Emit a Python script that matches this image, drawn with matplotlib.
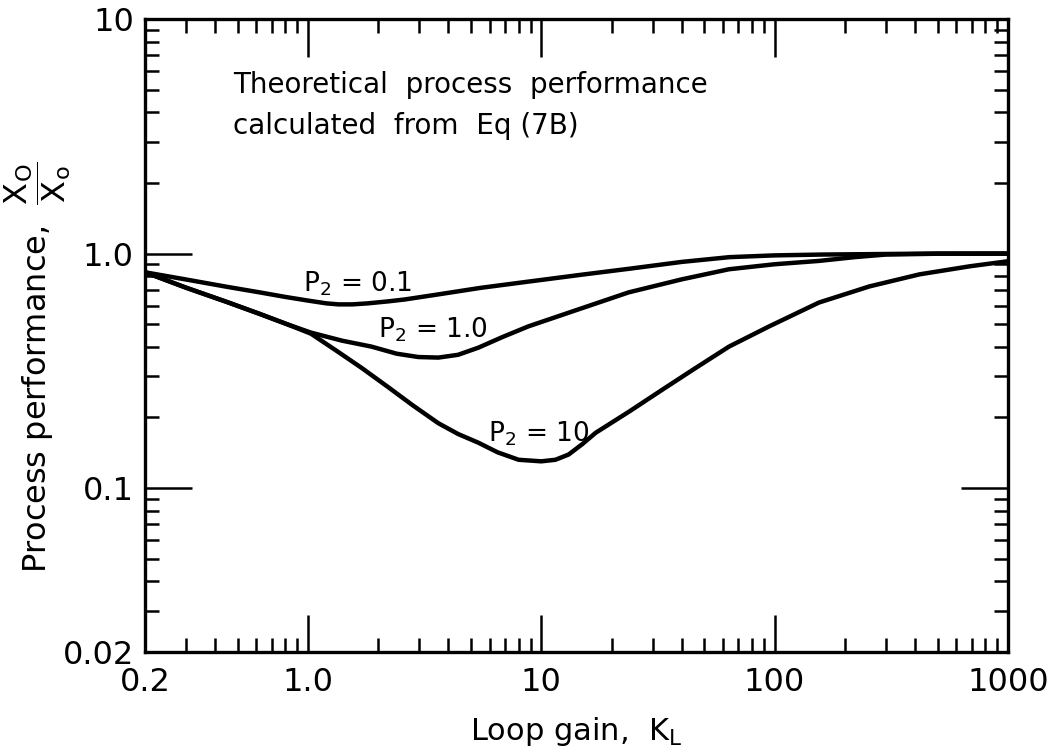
import matplotlib
matplotlib.use('Agg')
import matplotlib.pyplot as plt
from matplotlib.ticker import LogLocator, NullFormatter, FixedLocator, FixedFormatter

# values (loop gain K_L, process performance)
k_p01 = [0.2, 0.3, 0.45, 0.62, 0.8, 1.0, 1.2, 1.35, 1.55, 1.8, 2.2, 2.6, 3.6, 5.5, 8.8, 15, 24, 40, 64, 100, 160, 255, 500, 1000]
y_p01 = [0.832, 0.775, 0.721, 0.683, 0.653, 0.630, 0.613, 0.607, 0.607, 0.613, 0.625, 0.637, 0.669, 0.714, 0.759, 0.813, 0.862, 0.921, 0.965, 0.982, 0.990, 0.994, 1.0, 1.0]

k_p1 = [0.2, 0.3, 0.45, 0.62, 0.82, 1.03, 1.4, 1.87, 2.4, 2.97, 3.62, 4.4, 5.38, 6.8, 8.8, 14, 23.7, 40, 63.8, 100, 155, 220, 300, 500, 1000]
y_p1 = [0.832, 0.715, 0.621, 0.553, 0.498, 0.46, 0.425, 0.401, 0.374, 0.362, 0.36, 0.370, 0.397, 0.440, 0.489, 0.572, 0.683, 0.776, 0.857, 0.90, 0.93, 0.965, 0.99, 0.998, 1.0]

k_p10 = [0.2, 0.3, 0.45, 0.62, 0.82, 1.03, 1.35, 1.7, 2.21, 2.8, 3.62, 4.4, 5.38, 6.5, 8.0, 10, 11.5, 13.1, 15, 17.1, 24, 32.9, 45, 63.8, 94.8, 155, 255, 418, 686, 1000]
y_p10 = [0.832, 0.715, 0.621, 0.553, 0.498, 0.455, 0.38, 0.325, 0.269, 0.226, 0.189, 0.170, 0.156, 0.142, 0.132, 0.130, 0.132, 0.139, 0.154, 0.172, 0.213, 0.262, 0.321, 0.401, 0.489, 0.618, 0.724, 0.815, 0.882, 0.927]

x_ticks = [0.2, 1, 10, 100, 1000]
x_labels = ['0.2', '1.0', '10', '100', '1000']
y_ticks = [0.02, 0.1, 1, 10]
y_labels = ['0.02', '0.1', '1.0', '10']

plt.rcParams['font.family'] = 'DejaVu Sans'
plt.rcParams['mathtext.fontset'] = 'dejavusans'
plt.rcParams['mathtext.default'] = 'regular'

fig = plt.figure(figsize=(10.52, 7.54), dpi=100)
ax = fig.add_axes([0.1378, 0.1353, 0.8202, 0.8395])

for k, y in [(k_p01, y_p01), (k_p1, y_p1), (k_p10, y_p10)]:
    ax.plot(k, y, color='black', lw=3.2, solid_capstyle='round', solid_joinstyle='round')

ax.set_xscale('log')
ax.set_yscale('log')
ax.set_xlim(0.2, 1000)
ax.set_ylim(0.02, 10)

ax.xaxis.set_major_locator(FixedLocator(x_ticks))
ax.xaxis.set_major_formatter(FixedFormatter(x_labels))
ax.yaxis.set_major_locator(FixedLocator(y_ticks))
ax.yaxis.set_major_formatter(FixedFormatter(y_labels))
ax.xaxis.set_minor_locator(LogLocator(base=10, subs=range(2, 10), numticks=20))
ax.yaxis.set_minor_locator(LogLocator(base=10, subs=range(2, 10), numticks=20))
ax.xaxis.set_minor_formatter(NullFormatter())
ax.yaxis.set_minor_formatter(NullFormatter())

ax.tick_params(axis='both', which='both', direction='in', top=True, right=True, width=1.8)
ax.tick_params(axis='x', which='major', length=27, labelsize=23, pad=11)
ax.tick_params(axis='y', which='major', length=34, labelsize=23, pad=8)
ax.tick_params(axis='both', which='minor', length=10)
for s in ax.spines.values():
    s.set_linewidth(2.4)

ax.set_xlabel(r'Loop gain,  $K_L$', fontsize=22, labelpad=12)
ax.set_ylabel(r'Process performance,  $\dfrac{X_O}{X_o}$', fontsize=23)
ax.yaxis.set_label_coords(-0.083, 0.45)

ax.text(0.102, 0.918, 'Theoretical  process  performance\ncalculated  from  Eq (7B)',
        transform=ax.transAxes, fontsize=20, va='top', ha='left', linespacing=1.6)

ax.text(0.95, 0.74, r'$P_2$ = 0.1', fontsize=19, va='center', ha='left')
ax.text(2.0, 0.474, r'$P_2$ = 1.0', fontsize=19, va='center', ha='left')
ax.text(5.9, 0.171, r'$P_2$ = 10', fontsize=19, va='center', ha='left')

fig.savefig('out.png', dpi=100)
